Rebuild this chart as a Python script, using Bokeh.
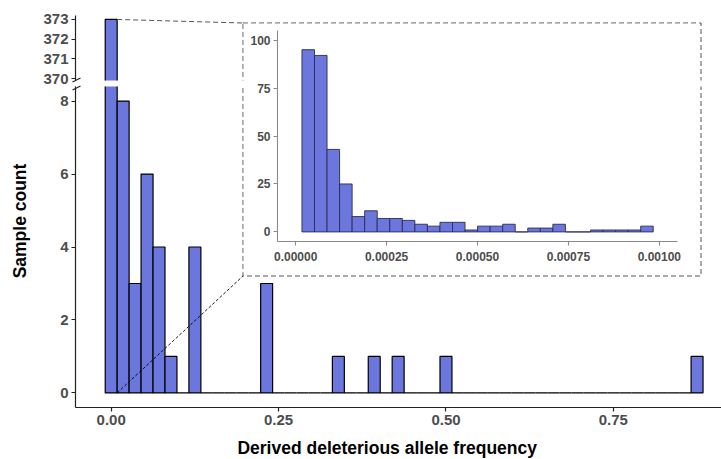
import math
from bokeh.plotting import figure
from bokeh.models import Range1d, FixedTicker, Label, ColumnDataSource
from bokeh.embed import file_html
from bokeh.resources import INLINE

# ---------------- data ----------------
main_bin_width = 0.875 / 49
main_counts = [373, 8, 3, 6, 4, 1, 0, 4, 0, 0,
               0, 0, 0, 3, 0, 0, 0, 0, 0, 1,
               0, 0, 1, 0, 1, 0, 0, 0, 1, 0,
               0, 0, 0, 0, 0, 0, 0, 0, 0, 0,
               0, 0, 0, 0, 0, 0, 0, 0, 0, 1]
inset_bin_width = 3.45e-5
inset_counts = [95, 92, 43, 25, 8, 11, 7, 7, 6, 4,
                3, 5, 5, 1, 3, 3, 4, 0, 2, 2,
                4, 0, 0, 1, 1, 1, 1, 3]

main_x_ticks = [0.0, 0.25, 0.5, 0.75]
main_x_labels = ["0.00", "0.25", "0.50", "0.75"]
lower_y_ticks = [0, 2, 4, 6, 8]
upper_y_ticks = [370, 371, 372, 373]
inset_x_ticks = [0.0, 0.00025, 0.0005, 0.00075, 0.001]
inset_x_labels = ["0.00000", "0.00025", "0.00050", "0.00075", "0.00100"]
inset_y_ticks = [0, 25, 50, 75, 100]
x_title = "Derived deleterious allele frequency"
y_title = "Sample count"

# ---------------- styles ----------------
FILL = "#6B77DD"
FONT = "Liberation Sans"
TICK_COL = "#4D4D4D"
AXIS_COL = "#222222"
DASH_COL = "#555555"

# ---------------- layout (page pixels) ----------------
M = 8
FIG_W = 713
PAGE_H = 459
FRAME_L, FRAME_R = 75, 721
UP_T, UP_B = 15, 80
UP_H = 80
LO_TOP_PAGE = 80
LO_T, LO_B = 86, 407
LO_H = PAGE_H - LO_TOP_PAGE
X_RANGE = (-0.0533, 0.9115)
UP_RANGE = (369.91, 373.2)
LO_RANGE = (-0.4, 8.4)
INSET_L, INSET_T, INSET_W, INSET_H = 243, 23, 457, 252
INSET_X_RANGE = (-0.00005, 0.00105)
INSET_Y_RANGE = (-5, 105)
X_TITLE_POS = (386.7, 447)
Y_TITLE_POS = (19.5, 220.5)


def px_to_x(px):
    return X_RANGE[0] + (px - FRAME_L) / (FRAME_R - FRAME_L) * (X_RANGE[1] - X_RANGE[0])


def py_to_up(py):
    return UP_RANGE[1] - (py - UP_T) / (UP_B - UP_T) * (UP_RANGE[1] - UP_RANGE[0])


def py_to_lo(py):
    return LO_RANGE[1] - (py - LO_T) / (LO_B - LO_T) * (LO_RANGE[1] - LO_RANGE[0])


def abs_pos(left, top):
    return {"position": "absolute", "left": f"{left}px", "top": f"{top}px"}


main_src = ColumnDataSource(dict(
    left=[k * main_bin_width - main_bin_width / 2 for k in range(len(main_counts))],
    right=[k * main_bin_width + main_bin_width / 2 for k in range(len(main_counts))],
    top=main_counts,
    bottom=[0] * len(main_counts),
))
inset_src = ColumnDataSource(dict(
    left=[(k + 0.5) * inset_bin_width for k in range(len(inset_counts))],
    right=[(k + 1.5) * inset_bin_width for k in range(len(inset_counts))],
    top=inset_counts,
    bottom=[0] * len(inset_counts),
))


def style_axis(ax, size, col=AXIS_COL, width=1.2, standoff=3):
    ax.axis_line_color = col
    ax.axis_line_width = width
    ax.major_tick_line_color = col
    ax.major_tick_line_width = width
    ax.major_tick_out = 4
    ax.major_tick_in = 0
    ax.minor_tick_line_color = None
    ax.major_label_text_font = FONT
    ax.major_label_text_font_style = "bold"
    ax.major_label_text_font_size = size
    ax.major_label_text_color = TICK_COL
    ax.major_label_standoff = standoff


def clean(p):
    p.grid.visible = False
    p.outline_line_color = None


x_range = Range1d(*X_RANGE)

# ---------------- lower panel (0-8) ----------------
lo = figure(width=FIG_W, height=LO_H, x_range=x_range, y_range=Range1d(*LO_RANGE),
            output_backend="svg", toolbar_location=None,
            min_border_left=FRAME_L - M, min_border_right=0,
            min_border_top=LO_T - LO_TOP_PAGE, min_border_bottom=PAGE_H - LO_B,
            styles=abs_pos(M, LO_TOP_PAGE))
clean(lo)
lo.quad(left="left", right="right", top="top", bottom="bottom", source=main_src,
        fill_color=FILL, line_color="black", line_width=1.2)
lo.yaxis.ticker = FixedTicker(ticks=lower_y_ticks)
lo.xaxis.ticker = FixedTicker(ticks=main_x_ticks)
lo.xaxis.major_label_overrides = dict(zip(main_x_ticks, main_x_labels))
style_axis(lo.yaxis[0], "15px")
style_axis(lo.xaxis[0], "15px")
lo.quad(left=[px_to_x(INSET_L - 0.5)], right=[px_to_x(INSET_L + INSET_W + 0.5)],
        top=[py_to_lo(INSET_T - 0.5)], bottom=[py_to_lo(INSET_T + INSET_H + 0.5)],
        fill_color=None, line_color=DASH_COL, line_dash="5 3", line_width=1)
lo.segment(x0=[main_bin_width / 2], y0=[0],
           x1=[px_to_x(INSET_L - 0.5)], y1=[py_to_lo(INSET_T + INSET_H + 0.5)],
           line_color="black", line_dash="3 2", line_width=0.9)

# ---------------- upper panel (370-373), transparent borders ----------------
up = figure(width=FIG_W, height=UP_H, x_range=x_range, y_range=Range1d(*UP_RANGE),
            output_backend="svg", toolbar_location=None, x_axis_location=None,
            min_border_left=FRAME_L - M, min_border_right=0,
            min_border_top=UP_T - M, min_border_bottom=M + UP_H - UP_B,
            background_fill_color=None, border_fill_color=None,
            styles=abs_pos(M, M))
clean(up)
up.quad(left="left", right="right", top="top", bottom="bottom", source=main_src,
        fill_color=FILL, line_color="black", line_width=1.2)
up.yaxis.ticker = FixedTicker(ticks=upper_y_ticks)
style_axis(up.yaxis[0], "15px")
up.quad(left=[px_to_x(INSET_L - 0.5)], right=[px_to_x(INSET_L + INSET_W + 0.5)],
        top=[py_to_up(INSET_T - 0.5)], bottom=[py_to_up(INSET_T + INSET_H + 0.5)],
        fill_color=None, line_color=DASH_COL, line_dash="5 3", line_width=1)
up.segment(x0=[main_bin_width / 2], y0=[main_counts[0]],
           x1=[px_to_x(INSET_L - 0.5)], y1=[py_to_up(INSET_T - 0.5)],
           line_color=DASH_COL, line_dash="5 3", line_width=1)

# ---------------- transparent overlay in page pixels: axis break + titles ----------------
ov = figure(width=FIG_W, height=PAGE_H - M, x_range=Range1d(M, M + FIG_W),
            y_range=Range1d(PAGE_H, M), output_backend="svg", toolbar_location=None,
            x_axis_location=None, y_axis_location=None, min_border=0,
            background_fill_color=None, border_fill_color=None,
            styles=abs_pos(M, M))
clean(ov)
ov.segment(x0=[FRAME_L - 3, FRAME_L - 3], y0=[UP_B + 1.5, LO_T + 3.5],
           x1=[FRAME_L + 5, FRAME_L + 5], y1=[UP_B - 2.5, LO_T - 0.5],
           line_color=AXIS_COL, line_width=1.2)
ov.add_layout(Label(x=X_TITLE_POS[0], y=X_TITLE_POS[1], text=x_title,
                    text_align="center", text_baseline="middle",
                    text_font=FONT, text_font_style="bold", text_font_size="17.5px",
                    text_color="black"))
ov.add_layout(Label(x=Y_TITLE_POS[0], y=Y_TITLE_POS[1], text=y_title, angle=math.pi / 2,
                    text_align="center", text_baseline="middle",
                    text_font=FONT, text_font_style="bold", text_font_size="17.5px",
                    text_color="black"))

# ---------------- inset ----------------
inset = figure(width=INSET_W, height=INSET_H, x_range=Range1d(*INSET_X_RANGE),
               y_range=Range1d(*INSET_Y_RANGE), output_backend="svg", toolbar_location=None,
               min_border_left=277 - INSET_L, min_border_right=INSET_L + INSET_W - 677,
               min_border_top=30 - INSET_T, min_border_bottom=INSET_T + INSET_H - 241,
               styles=abs_pos(INSET_L, INSET_T))
clean(inset)
inset.quad(left="left", right="right", top="top", bottom="bottom", source=inset_src,
           fill_color=FILL, line_color="#2b2b55", line_width=0.9)
inset.xaxis.ticker = FixedTicker(ticks=inset_x_ticks)
inset.xaxis.major_label_overrides = dict(zip(inset_x_ticks, inset_x_labels))
inset.yaxis.ticker = FixedTicker(ticks=inset_y_ticks)
style_axis(inset.xaxis[0], "12px", col="#8a8a8a", width=1.1, standoff=6)
style_axis(inset.yaxis[0], "12px", col="#8a8a8a", width=1.1)

open("out.html", "w").write(file_html([lo, up, ov, inset], INLINE))
